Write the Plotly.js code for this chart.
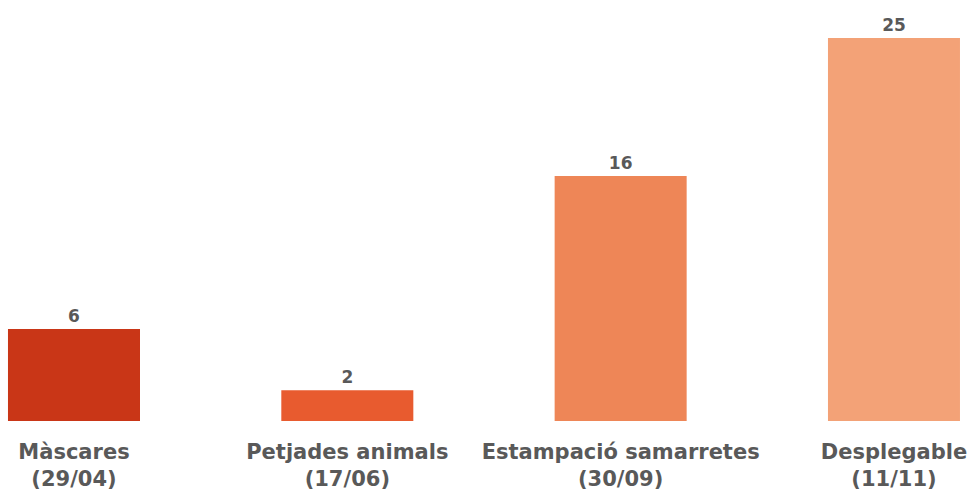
<!DOCTYPE html>
<html>
<head>
<meta charset="utf-8">
<script src="https://cdn.plot.ly/plotly-3.0.1.min.js"></script>
<style>html,body{margin:0;padding:0;background:#fff;}#chart{width:971px;height:493px;}</style>
</head>
<body>
<div id="chart"></div>
<script>
const categories = ["Màscares<br>(29/04)", "Petjades animals<br>(17/06)", "Estampació samarretes<br>(30/09)", "Desplegable<br>(11/11)"];
const values = [6, 2, 16, 25];
const barColors = ["#C93617", "#E85B2F", "#EE8657", "#F3A277"];

const trace = {
  type: "bar",
  x: categories,
  y: values,
  marker: {color: barColors},
  width: 0.483,
  text: values.map(String),
  textposition: "outside",
  cliponaxis: false,
  textfont: {family: "DejaVu Sans", size: 17, color: "#595959", weight: "bold"},
  hoverinfo: "none"
};

const layout = {
  width: 971, height: 493,
  margin: {l: 0, r: 0, t: 0, b: 72},
  paper_bgcolor: "#fff", plot_bgcolor: "#fff",
  showlegend: false,
  xaxis: {
    range: [-0.2707, 3.2818],
    showgrid: false, zeroline: false, showline: false, ticks: "",
    ticklabelstandoff: 16,
    tickfont: {family: "DejaVu Sans", size: 21, color: "#595959", weight: "bold"}
  },
  yaxis: {
    range: [0, 27.48],
    visible: false, showgrid: false, zeroline: false
  }
};
Plotly.newPlot("chart", [trace], layout, {displayModeBar: false, staticPlot: true});
</script>
</body>
</html>
